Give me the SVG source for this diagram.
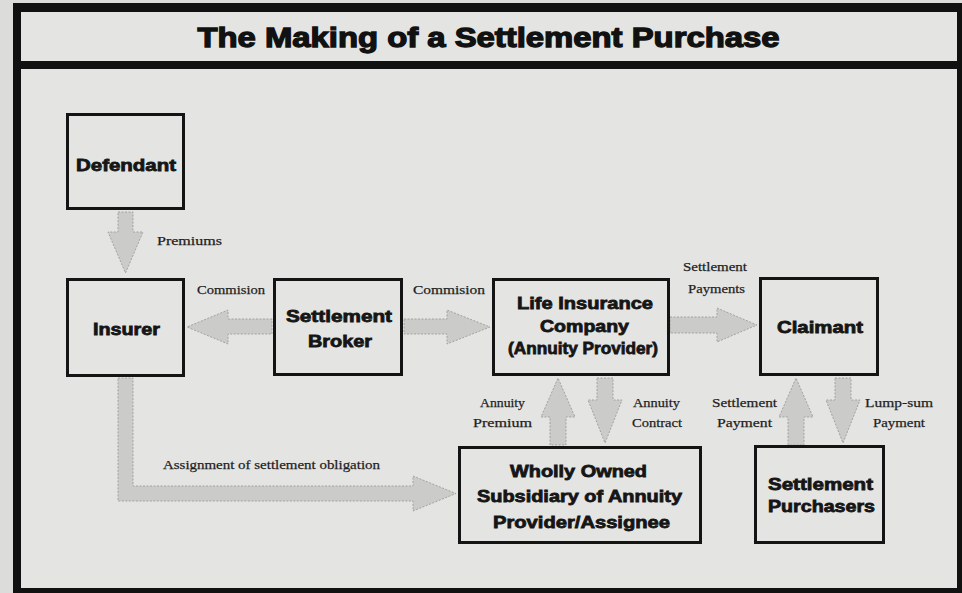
<svg xmlns="http://www.w3.org/2000/svg" width="962" height="593" viewBox="0 0 962 593">
  <style>
    .frame { fill: #111111; }
    .box { fill: #e4e4e2; stroke: #141414; stroke-width: 3; }
    .node-text { font-family: "Liberation Sans", Arial, sans-serif; font-weight: bold; font-size: 17px; fill: #151515; stroke: #151515; stroke-width: 0.8; text-anchor: middle; }
    .flow { fill: #cbcbc9; stroke: #a2a2a0; stroke-width: 1; stroke-dasharray: 2 1.5; stroke-linejoin: miter; }
    .label { font-family: "Liberation Serif", "Times New Roman", serif; font-size: 13.5px; fill: #1e1e1e; stroke: #1e1e1e; stroke-width: 0.25; }
    .title { font-family: "Liberation Sans", Arial, sans-serif; font-weight: bold; font-size: 28px; fill: #111111; stroke: #111111; stroke-width: 1.3; text-anchor: middle; }
  </style>

  <!-- paper -->
  <rect x="0" y="0" width="962" height="593" fill="#dcdcda"/>
  <rect x="13" y="3" width="949" height="590" fill="#e4e4e2"/>

  <!-- frame rules -->
  <g id="frame">
    <rect class="frame" x="13" y="3" width="949" height="9"/>
    <rect class="frame" x="13" y="61" width="949" height="8"/>
    <rect class="frame" x="13" y="3" width="8" height="590"/>
    <rect class="frame" x="957" y="3" width="5" height="590"/>
    <rect class="frame" x="13" y="588" width="949" height="5"/>
  </g>

  <g id="title">
    <text class="title" x="488.5" y="47" textLength="582" lengthAdjust="spacingAndGlyphs">The Making of a Settlement Purchase</text>
  </g>

  <!-- flows between parties -->
  <g id="connectors">
    <!-- Defendant to Insurer -->
    <polygon class="flow" points="118,212 133,212 133,232 143,232 125.5,273 108,232 118,232"/>
    <!-- Broker to Insurer -->
    <polygon class="flow" points="272,319 228,319 228,310 187,327 228,344 228,334 272,334"/>
    <!-- Broker to Life Insurance Company -->
    <polygon class="flow" points="404,319 447,319 447,310 490,327 447,344 447,334 404,334"/>
    <!-- Life Insurance Company to Claimant -->
    <polygon class="flow" points="670,317 717,317 717,308 757,325 717,342 717,333 670,333"/>
    <!-- Annuity premium, up -->
    <polygon class="flow" points="550,445 550,417 541,417 558,378 575,417 566,417 566,445"/>
    <!-- Annuity contract, down -->
    <polygon class="flow" points="597,378 613,378 613,400 622,400 605,443 588,400 597,400"/>
    <!-- Settlement payment, up -->
    <polygon class="flow" points="788,445 788,417 779,417 796,378 813,417 804,417 804,445"/>
    <!-- Lump-sum payment, down -->
    <polygon class="flow" points="835,378 851,378 851,400 860,400 843,443 826,400 835,400"/>
    <!-- Assignment of settlement obligation -->
    <polygon class="flow" points="118,378 133,378 133,486 413,486 413,476 456,493.5 413,511 413,501 118,501"/>
  </g>

  <g id="flow-labels">
    <text class="label" x="157" y="245" textLength="65" lengthAdjust="spacingAndGlyphs">Premiums</text>
    <text class="label" x="197" y="294" textLength="68" lengthAdjust="spacingAndGlyphs">Commision</text>
    <text class="label" x="413" y="294" textLength="72" lengthAdjust="spacingAndGlyphs">Commision</text>
    <text class="label" x="683" y="271" textLength="64" lengthAdjust="spacingAndGlyphs">Settlement</text>
    <text class="label" x="688" y="293" textLength="57" lengthAdjust="spacingAndGlyphs">Payments</text>
    <text class="label" x="480" y="407" textLength="45" lengthAdjust="spacingAndGlyphs">Annuity</text>
    <text class="label" x="473" y="427" textLength="59" lengthAdjust="spacingAndGlyphs">Premium</text>
    <text class="label" x="633" y="407" textLength="47" lengthAdjust="spacingAndGlyphs">Annuity</text>
    <text class="label" x="632" y="427" textLength="50" lengthAdjust="spacingAndGlyphs">Contract</text>
    <text class="label" x="712" y="407" textLength="65" lengthAdjust="spacingAndGlyphs">Settlement</text>
    <text class="label" x="717" y="427" textLength="55" lengthAdjust="spacingAndGlyphs">Payment</text>
    <text class="label" x="865" y="407" textLength="68" lengthAdjust="spacingAndGlyphs">Lump-sum</text>
    <text class="label" x="873" y="427" textLength="52" lengthAdjust="spacingAndGlyphs">Payment</text>
    <text class="label" x="163" y="469" textLength="217" lengthAdjust="spacingAndGlyphs">Assignment of settlement obligation</text>
  </g>

  <g id="defendant">
    <rect class="box" x="67.5" y="114.5" width="116" height="94"/>
    <text class="node-text" x="126" y="171" textLength="100" lengthAdjust="spacingAndGlyphs">Defendant</text>
  </g>

  <g id="insurer">
    <rect class="box" x="67.5" y="279.5" width="116" height="96"/>
    <text class="node-text" x="126.5" y="335" textLength="67" lengthAdjust="spacingAndGlyphs">Insurer</text>
  </g>

  <g id="settlement-broker">
    <rect class="box" x="274.5" y="279.5" width="127" height="95"/>
    <text class="node-text" x="339" y="322" textLength="106" lengthAdjust="spacingAndGlyphs">Settlement</text>
    <text class="node-text" x="340" y="347" textLength="64" lengthAdjust="spacingAndGlyphs">Broker</text>
  </g>

  <g id="life-insurance-company">
    <rect class="box" x="493.5" y="279.5" width="175" height="95"/>
    <text class="node-text" x="585" y="309" textLength="136" lengthAdjust="spacingAndGlyphs">Life Insurance</text>
    <text class="node-text" x="584.5" y="332" textLength="89" lengthAdjust="spacingAndGlyphs">Company</text>
    <text class="node-text" x="583" y="354" textLength="150" lengthAdjust="spacingAndGlyphs">(Annuity Provider)</text>
  </g>

  <g id="claimant">
    <rect class="box" x="760.5" y="278.5" width="117" height="96"/>
    <text class="node-text" x="820" y="333" textLength="86" lengthAdjust="spacingAndGlyphs">Claimant</text>
  </g>

  <g id="subsidiary-assignee">
    <rect class="box" x="459.5" y="447.5" width="241" height="95"/>
    <text class="node-text" x="578.5" y="477" textLength="137" lengthAdjust="spacingAndGlyphs">Wholly Owned</text>
    <text class="node-text" x="579.5" y="502" textLength="205" lengthAdjust="spacingAndGlyphs">Subsidiary of Annuity</text>
    <text class="node-text" x="581.5" y="528" textLength="177" lengthAdjust="spacingAndGlyphs">Provider/Assignee</text>
  </g>

  <g id="settlement-purchasers">
    <rect class="box" x="755.5" y="446.5" width="128" height="96"/>
    <text class="node-text" x="820.5" y="490" textLength="105" lengthAdjust="spacingAndGlyphs">Settlement</text>
    <text class="node-text" x="821.5" y="512" textLength="107" lengthAdjust="spacingAndGlyphs">Purchasers</text>
  </g>
</svg>
